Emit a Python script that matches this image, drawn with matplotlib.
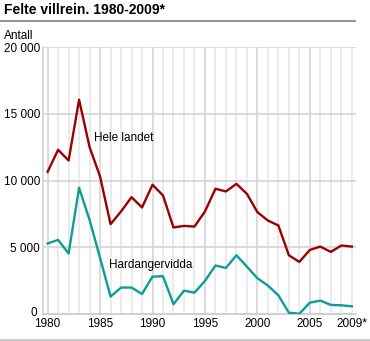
import matplotlib
matplotlib.use("Agg")
import matplotlib.pyplot as plt
import matplotlib.transforms as mtransforms
from matplotlib.lines import Line2D

plt.rcParams['font.family'] = ['Liberation Sans', 'DejaVu Sans']

years = list(range(1980, 2010))
hele_landet = [10650, 12300, 11500, 16050, 12500, 10300, 6730, 7680, 8750, 7980,
               9680, 8880, 6480, 6600, 6550, 7680, 9380, 9180, 9750, 9000,
               7630, 7000, 6630, 4400, 3900, 4800, 5050, 4650, 5130, 5050]
hardangervidda = [5280, 5550, 4530, 9450, 7050, 4200, 1300, 1980, 1980, 1500,
                  2800, 2830, 730, 1750, 1600, 2480, 3630, 3450, 4400, 3550,
                  2680, 2130, 1400, 100, 20, 850, 1000, 680, 650, 580]
yticks = [0, 5000, 10000, 15000, 20000]
ytick_labels = ["0", "5 000", "10 000", "15 000", "20 000"]
xticks = [1980, 1985, 1990, 1995, 2000, 2005, 2009]
xtick_labels = ["1980", "1985", "1990", "1995", "2000", "2005", "2009*"]

W, H = 370, 341
fig = plt.figure(figsize=(W / 100, H / 100), dpi=100)
ax = fig.add_axes([43 / W, (H - 314) / H, (356 - 43) / W, (314 - 47) / H])

# rutenett
for y in years:
    c = "#d4d4d4" if y % 5 == 0 else "#e8e8e8"
    ax.axvline(y, color=c, lw=1.2, zorder=0)
for v in yticks[1:]:
    ax.axhline(v, color="#d4d4d4", lw=1.2, zorder=0)

ax.plot(years, hele_landet, color="#9b0000", lw=1.7, zorder=3)
ax.plot(years, hardangervidda, color="#0e9b9b", lw=1.7, zorder=3)

ax.text(1984.45, 13200, "Hele landet", fontsize=8.5, va="center", ha="left")
ax.text(1985.85, 3640, "Hardangervidda", fontsize=8.5, va="center", ha="left")

ax.set_xlim(1979.56, 2009.4)
ax.set_ylim(0, 20000)
ax.set_xticks(xticks)
ax.set_xticklabels(xtick_labels)
ax.set_yticks(yticks)
ax.set_yticklabels(ytick_labels)
ax.tick_params(axis="both", labelsize=8.5, length=0, pad=2)
ax.tick_params(axis="x", pad=3)
for s in ["top", "right"]:
    ax.spines[s].set_visible(False)
ax.spines["left"].set_color("#d4d4d4")
ax.spines["bottom"].set_color("#c8c8c8")
ax.spines["left"].set_linewidth(1.2)
ax.spines["bottom"].set_linewidth(1.2)

# "0" litt opp og til venstre, som i originalen
zero = ax.get_yticklabels()[0]
zero.set_transform(zero.get_transform() +
                   mtransforms.ScaledTranslation(-3 / 100, 3 / 100, fig.dpi_scale_trans))

fig.text(4 / W, 1 - 10 / H, "Felte villrein. 1980-2009*", fontsize=10,
         fontweight="bold", va="center", ha="left")
fig.text(4 / W, 1 - 36 / H, "Antall", fontsize=8.5, va="center", ha="left")
fig.add_artist(Line2D([0, 355 / W], [1 - 21 / H, 1 - 21 / H], color="#808080", lw=1.2))
fig.add_artist(Line2D([0, 1], [1 - 340 / H, 1 - 340 / H], color="#c8c8c8", lw=2))

fig.savefig("out.png", dpi=100)
